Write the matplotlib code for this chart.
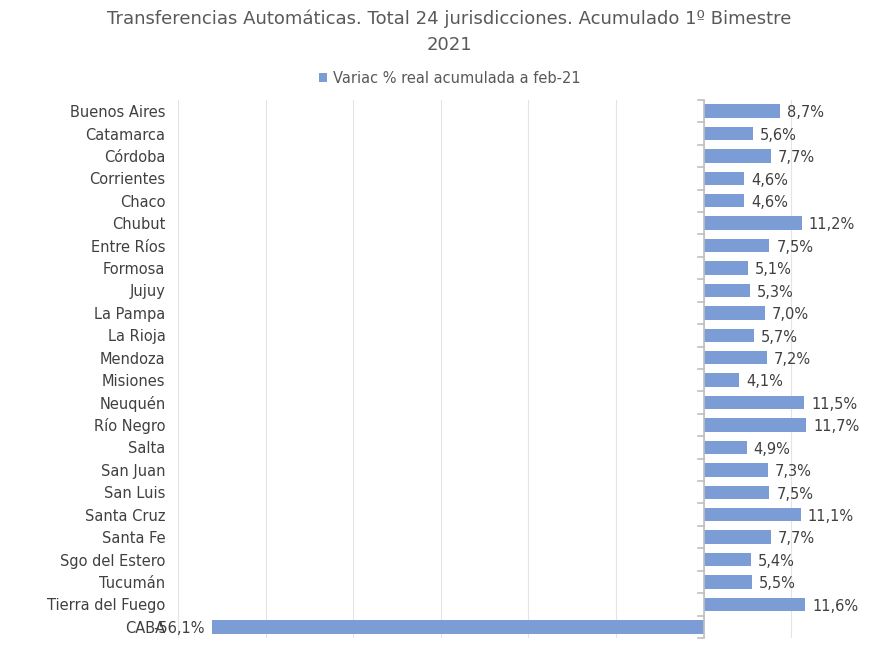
import matplotlib.pyplot as plt
import numpy as np

provincias = ['Buenos Aires', 'Catamarca', 'Córdoba', 'Corrientes', 'Chaco', 'Chubut',
              'Entre Ríos', 'Formosa', 'Jujuy', 'La Pampa', 'La Rioja', 'Mendoza',
              'Misiones', 'Neuquén', 'Río Negro', 'Salta', 'San Juan', 'San Luis',
              'Santa Cruz', 'Santa Fe', 'Sgo del Estero', 'Tucumán', 'Tierra del Fuego', 'CABA']
variacion = [8.7, 5.6, 7.7, 4.6, 4.6, 11.2, 7.5, 5.1, 5.3, 7.0, 5.7, 7.2,
             4.1, 11.5, 11.7, 4.9, 7.3, 7.5, 11.1, 7.7, 5.4, 5.5, 11.6, -56.1]
serie = 'Variac % real acumulada a feb-21'
titulo = 'Transferencias Automáticas. Total 24 jurisdicciones. Acumulado 1º Bimestre\n2021'

color_barra = '#7B9CD5'
gris_texto = '#404040'

fig = plt.figure(figsize=(8.94, 6.46), dpi=100)
ax = fig.add_axes([0.199, 0.0124, 0.784, 0.833])

y = np.arange(len(provincias))
ax.barh(y, variacion, height=0.6, color=color_barra, label=serie, zorder=3)

# etiquetas de datos (la de CABA pisa el nombre, igual que en el original)
for yi, v in zip(y, variacion):
    txt = f'{v:.1f}%'.replace('.', ',')
    if v >= 0:
        ax.text(v + 0.8, yi + 0.08, txt, va='center', ha='left', fontsize=10.5, color=gris_texto)
    else:
        ax.text(v - 0.8, yi + 0.08, txt, va='center', ha='right', fontsize=10.5, color=gris_texto)

ax.set_xlim(-60, 20)
ax.set_ylim(len(provincias) - 0.5, -0.5)
ax.set_xticks(np.arange(-60, 21, 10))
ax.set_xticklabels([])
ax.tick_params(axis='x', length=0)
ax.grid(axis='x', color='#E4E4E4', linewidth=0.8, zorder=0)

ax.set_yticks(y)
ax.set_yticklabels(provincias, fontsize=10.5, color=gris_texto)
ax.tick_params(axis='y', length=0, pad=9)
for s in ax.spines.values():
    s.set_visible(False)

# eje en cero con marcas entre categorias
ax.axvline(0, color='#BFBFBF', linewidth=1.2, zorder=4)
for b in np.arange(-0.5, len(provincias), 1):
    ax.plot([-0.6, 0], [b, b], color='#BFBFBF', linewidth=1.2, zorder=4, clip_on=False)

fig.text(0.503, 0.985, titulo, ha='center', va='top', fontsize=13, color='#595959',
         linespacing=1.55)
fig.legend(loc='center', bbox_to_anchor=(0.503, 0.879), frameon=False, fontsize=10.5,
           handlelength=0.6, handleheight=0.6, handletextpad=0.4, labelcolor='#595959')

fig.savefig('out.png', dpi=100)
